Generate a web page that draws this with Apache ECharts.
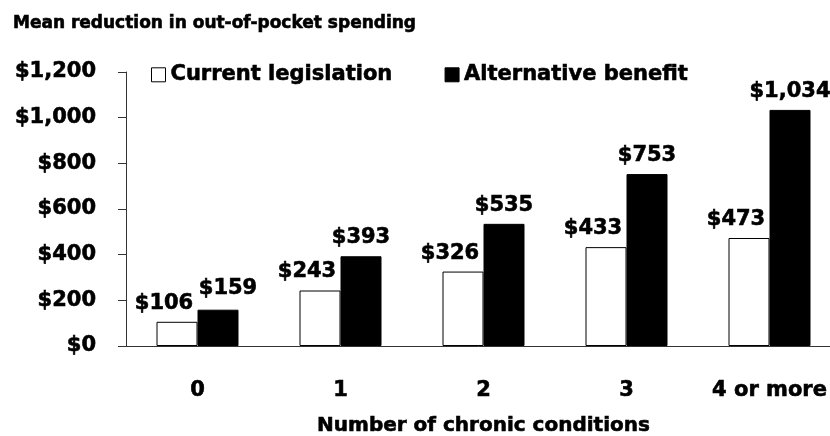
<!DOCTYPE html>
<html>
<head>
<meta charset="utf-8">
<script src="https://cdn.jsdelivr.net/npm/echarts@6/dist/echarts.min.js"></script>
<style>
  html, body { margin: 0; padding: 0; background: #fff; }
  #chart { width: 830px; height: 436px; }
</style>
</head>
<body>
<div id="chart"></div>
<script>
const categories = ['0', '1', '2', '3', '4 or more']
const currentLegislation = [106, 243, 326, 433, 473]
const alternativeBenefit = [159, 393, 535, 753, 1034]
const yTicks = [0, 200, 400, 600, 800, 1000, 1200]

const font = 'DejaVu Sans'
const money = (v) => '$' + v.toLocaleString('en-US')
// heavy text, close to the original's Arial Black
const heavy = (size) => ({
  fontFamily: font,
  fontWeight: 'bold',
  fontSize: size,
  color: '#000',
  textBorderColor: '#000',
  textBorderWidth: 0.6
})

const chart = echarts.init(document.getElementById('chart'))
chart.setOption({
  animation: false,
  backgroundColor: '#fff',
  title: {
    text: 'Mean reduction in out-of-pocket spending',
    left: 8,
    top: 10,
    textStyle: heavy(17)
  },
  legend: {
    left: 151,
    top: 64,
    padding: 0,
    icon: 'rect',
    itemWidth: 14,
    itemHeight: 14,
    itemGap: 52,
    itemStyle: { borderColor: '#000', borderWidth: 1 },
    textStyle: heavy(21),
    data: ['Current legislation', 'Alternative benefit']
  },
  grid: { left: 126, top: 72, width: 715, height: 274, outerBoundsMode: 'none' },
  xAxis: {
    type: 'category',
    data: categories,
    name: 'Number of chronic conditions',
    nameLocation: 'middle',
    nameGap: 70,
    nameTextStyle: heavy(20),
    axisLine: { lineStyle: { color: '#333' } },
    axisTick: { length: 8, lineStyle: { color: '#333' } },
    axisLabel: Object.assign({ margin: 34, interval: 0 }, heavy(21))
  },
  yAxis: {
    type: 'value',
    min: yTicks[0],
    max: yTicks[yTicks.length - 1],
    interval: yTicks[1] - yTicks[0],
    splitLine: { show: false },
    axisLine: { show: true, lineStyle: { color: '#333' } },
    axisTick: { show: true, length: 8, lineStyle: { color: '#333' } },
    axisLabel: Object.assign({ margin: 30, formatter: money }, heavy(21))
  },
  series: [
    {
      name: 'Current legislation',
      type: 'bar',
      data: currentLegislation,
      barWidth: 41,
      barGap: '0%',
      itemStyle: { color: '#fff', borderColor: '#000', borderWidth: 1 },
      label: Object.assign({
        show: true,
        position: 'top',
        distance: 8,
        offset: [-13, 0],
        formatter: (p) => money(p.value)
      }, heavy(21))
    },
    {
      name: 'Alternative benefit',
      type: 'bar',
      // first label sits a bit to the right so it clears its neighbour
      data: alternativeBenefit.map((v, i) => (i === 0 ? { value: v, label: { offset: [10, -3] } } : v)),
      barWidth: 41,
      barGap: '0%',
      itemStyle: { color: '#000', borderColor: '#000', borderWidth: 1 },
      label: Object.assign({
        show: true,
        position: 'top',
        distance: 8,
        formatter: (p) => money(p.value)
      }, heavy(21))
    }
  ]
})
</script>
</body>
</html>
